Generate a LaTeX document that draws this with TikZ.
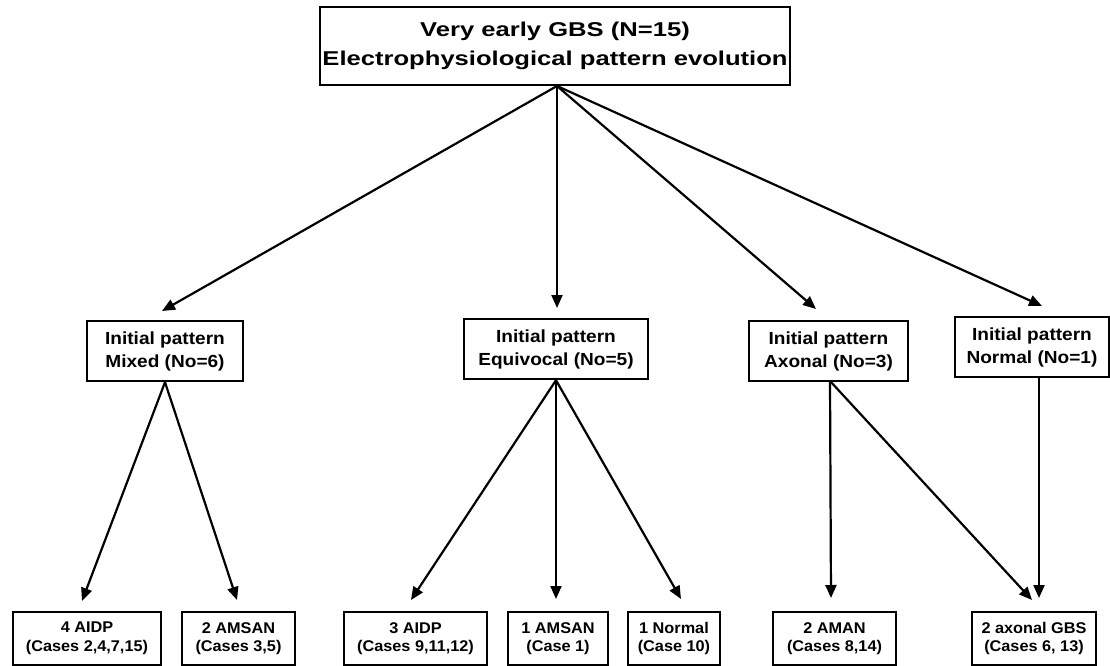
\documentclass[tikz,border=0pt]{standalone}
\usepackage{fontspec}
\setmainfont{Liberation Sans}
\newfontfamily\topf[FakeStretch=1.28]{Liberation Sans}
\newfontfamily\midf[FakeStretch=1.09]{Liberation Sans}
\newfontfamily\botf[FakeStretch=1.05]{Liberation Sans}
\usetikzlibrary{arrows.meta,calc}
\begin{document}
\begin{tikzpicture}[x=1pt,y=-1pt,
  box/.style={draw=black,line width=2.4pt,fill=white,inner sep=0pt,align=center,anchor=center},
  topbox/.style={box,minimum width=470pt,minimum height=78pt,font=\topf\bfseries\fontsize{20}{29}\selectfont},
  midbox/.style={box,minimum height=60pt,font=\midf\bfseries\fontsize{17.5}{23}\selectfont},
  botbox/.style={box,minimum height=53pt,font=\botf\bfseries\fontsize{15.5}{18.5}\selectfont},
  arr/.style={line width=2.2pt,-{Triangle[length=13pt,width=11pt]}}]
\useasboundingbox (0,0) rectangle (1110,666);
% top
\node[topbox] (top) at (555,46) {Very early GBS (N=15)\\Electrophysiological pattern evolution};
% level 2
\node[midbox,minimum width=156pt] (mix) at (165,351) {Initial pattern\\Mixed (No=6)};
\node[midbox,minimum width=184pt] (equ) at (556,349) {Initial pattern\\Equivocal (No=5)};
\node[midbox,minimum width=159pt] (axo) at (828.5,351) {Initial pattern\\Axonal (No=3)};
\node[midbox,minimum width=154pt] (nor) at (1032,347) {Initial pattern\\Normal (No=1)};
% level 3
\node[botbox,minimum width=148pt] (a1) at (87,638.5) {4 AIDP\\(Cases 2,4,7,15)};
\node[botbox,minimum width=113pt] (a2) at (238.5,638.5) {2 AMSAN\\(Cases 3,5)};
\node[botbox,minimum width=143pt] (e1) at (415.5,638.5) {3 AIDP\\(Cases 9,11,12)};
\node[botbox,minimum width=100pt] (e2) at (558,638.5) {1 AMSAN\\(Case 1)};
\node[botbox,minimum width=92pt] (e3) at (674,638.5) {1 Normal\\(Case 10)};
\node[botbox,minimum width=123pt] (x1) at (834.5,638.5) {2 AMAN\\(Cases 8,14)};
\node[botbox,minimum width=124pt] (x2) at (1034,638.5) {2 axonal GBS\\(Cases 6, 13)};
% connector points
\coordinate (apex) at (557,86);
\coordinate (tmix) at (162,311);
\coordinate (tequ) at (557,308);
\coordinate (taxo) at (816,309);
\coordinate (tnor) at (1042,306);
\coordinate (sax) at (830,381);
\coordinate (snor) at (1039,377);
\coordinate (ta1) at (82,601);
\coordinate (ta2) at (237,600);
\coordinate (te1) at (411,600);
\coordinate (te2) at (556,599);
\coordinate (te3) at (681,599);
\coordinate (tx1) at (831,598);
\coordinate (tx2a) at (1032,600);
\coordinate (tx2b) at (1039,598);
% arrows
\draw[arr] (apex) -- (tmix);
\draw[arr] (apex) -- (tequ);
\draw[arr] (apex) -- (taxo);
\draw[arr] (apex) -- (tnor);
\draw[arr] (mix.south) -- (ta1);
\draw[arr] (mix.south) -- (ta2);
\draw[arr] (equ.south) -- (te1);
\draw[arr] (equ.south) -- (te2);
\draw[arr] (equ.south) -- (te3);
\draw[arr] (sax) -- (tx1);
\draw[arr] (sax) -- (tx2a);
\draw[arr] (snor) -- (tx2b);
\end{tikzpicture}
\end{document}
